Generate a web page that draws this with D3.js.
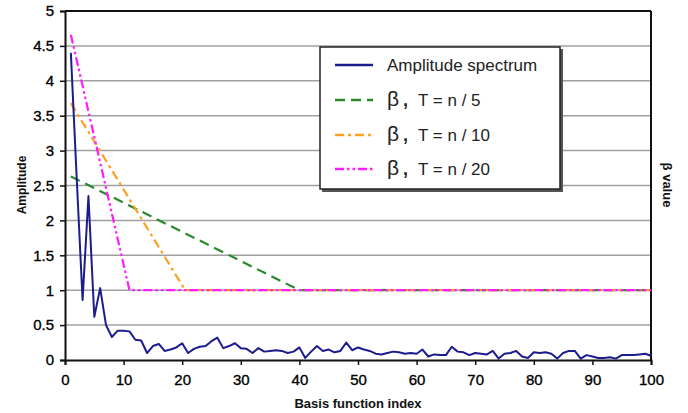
<!DOCTYPE html>
<html><head><meta charset="utf-8">
<script src="https://cdn.jsdelivr.net/npm/d3@7"></script>
<style>
body{margin:0;background:#fff;}
svg{display:block;font-family:"Liberation Sans",Arial,Helvetica,sans-serif;}
</style></head>
<body><svg id="c" width="688" height="413"></svg>
<script>
const indices = d3.range(1, 101);
const amplitude = [4.4,2.6,0.86,2.35,0.62,1.03,0.5,0.33,0.42,0.42,
0.41,0.29,0.28,0.1,0.2,0.23,0.13,0.15,0.18,0.24,
0.1,0.16,0.19,0.2,0.27,0.32,0.17,0.2,0.24,0.17,
0.16,0.1,0.17,0.12,0.13,0.14,0.13,0.1,0.12,0.18,
0.03,0.12,0.2,0.13,0.15,0.11,0.13,0.25,0.14,0.18,
0.15,0.13,0.09,0.08,0.1,0.12,0.11,0.09,0.1,0.09,
0.15,0.05,0.08,0.07,0.07,0.19,0.12,0.11,0.07,0.1,
0.09,0.08,0.13,0.02,0.09,0.1,0.13,0.05,0.03,0.11,
0.1,0.11,0.09,0.02,0.1,0.13,0.13,0.02,0.07,0.05,
0.03,0.03,0.04,0.02,0.07,0.07,0.07,0.08,0.09,0.06];
// beta breakpoints (index, value)
const betaT5x = [1, 40, 100], betaT5y = [2.63, 1, 1];
const betaT10x = [1, 20.5, 100], betaT10y = [3.68, 1, 1];
const betaT20x = [1, 11, 100], betaT20y = [4.66, 1, 1];
const xTicks = [0,10,20,30,40,50,60,70,80,90,100];
const yTicks = [0,0.5,1,1.5,2,2.5,3,3.5,4,4.5,5];
const legendLabels = ["Amplitude spectrum", "T = n / 5", "T = n / 10", "T = n / 20"];

const svg = d3.select("#c");
const L = 65, R = 651, T = 11, B = 360;
const x = d3.scaleLinear().domain([0,100]).range([L,R]);
const y = d3.scaleLinear().domain([0,5]).range([B,T]);

// gridlines
svg.append("g").selectAll("line").data(yTicks.filter(d=>d>0 && d<5)).join("line")
  .attr("x1",L).attr("x2",R).attr("y1",d=>y(d)).attr("y2",d=>y(d))
  .attr("stroke","#a0a0a0").attr("stroke-width",1.5);

// frame top/right
svg.append("line").attr("x1",L).attr("x2",R).attr("y1",T).attr("y2",T).attr("stroke","#111").attr("stroke-width",2);
svg.append("line").attr("x1",R).attr("x2",R).attr("y1",T).attr("y2",B).attr("stroke","#111").attr("stroke-width",2);

// axes
const xa = svg.append("g").attr("transform",`translate(0,${B})`)
  .call(d3.axisBottom(x).tickValues(xTicks).tickSize(5).tickPadding(9).tickFormat(d3.format("d")));
const ya = svg.append("g").attr("transform",`translate(${L},0)`)
  .call(d3.axisLeft(y).tickValues(yTicks).tickSize(5).tickPadding(6).tickFormat(d=>String(d)));
[xa,ya].forEach(a=>{
  a.select(".domain").attr("stroke","#111").attr("stroke-width",2);
  a.selectAll(".tick line").attr("stroke","#111").attr("stroke-width",1.5);
  a.selectAll("text").attr("fill","#000").attr("stroke","#000").attr("stroke-width",0.35)
    .style("font-size","15px").style("font-family","'Liberation Sans',Arial,sans-serif");
});

const line = d3.line().x(d=>x(d[0])).y(d=>y(d[1]));
const series = [
  {xs:betaT5x, ys:betaT5y, color:"#2a8a2a", dash:"10,6"},
  {xs:betaT10x, ys:betaT10y, color:"#ffa022", dash:"9,4,3,4"},
  {xs:betaT20x, ys:betaT20y, color:"#ff1cff", dash:"9,3,2.5,3,2.5,3"}
];
series.forEach(s=>{
  svg.append("path").datum(s.xs.map((v,i)=>[v,s.ys[i]])).attr("d",line)
    .attr("fill","none").attr("stroke",s.color).attr("stroke-width",2.2).attr("stroke-dasharray",s.dash);
});
svg.append("path").datum(indices.map((v,i)=>[v,amplitude[i]])).attr("d",line)
  .attr("fill","none").attr("stroke","#1c1c8e").attr("stroke-width",2).attr("stroke-linejoin","round");

// axis titles
svg.append("text").attr("transform","translate(26,185) rotate(-90)").attr("text-anchor","middle")
  .style("font-size","12px").style("font-weight","bold").attr("fill","#111").text("Amplitude");
svg.append("text").attr("x",358).attr("y",408).attr("text-anchor","middle")
  .style("font-size","13px").style("font-weight","bold").attr("fill","#111").text("Basis function index");
svg.append("text").attr("transform","translate(663,185) rotate(90)").attr("text-anchor","middle")
  .style("font-size","13px").style("font-weight","bold").attr("fill","#111").text("β value");

// legend
const lg = svg.append("g");
lg.append("rect").attr("x",322).attr("y",49).attr("width",241).attr("height",143).attr("fill","#555");
lg.append("rect").attr("x",320).attr("y",47).attr("width",240).attr("height",142).attr("fill","#fff").attr("stroke","#222").attr("stroke-width",1.5);
const rowsY = [65,100,135,169];
const styles = [{color:"#1c1c8e",dash:null},...series];
styles.forEach((s,i)=>{
  lg.append("line").attr("x1",335).attr("x2",373).attr("y1",rowsY[i]).attr("y2",rowsY[i])
    .attr("stroke",s.color).attr("stroke-width",2.5).attr("stroke-dasharray",s.dash);
  if(i===0){
    lg.append("text").attr("x",387).attr("y",rowsY[i]+6).style("font-size","17px").attr("fill","#222").text(legendLabels[0]);
  } else {
    const t = lg.append("text").attr("x",387).attr("y",rowsY[i]+6).attr("fill","#222");
    t.append("tspan").style("font-size","21px").text("β");
    t.append("tspan").attr("x",403).style("font-size","18px").style("font-weight","bold").text(",");
    t.append("tspan").attr("x",418).style("font-size","17px").text(legendLabels[i]);
  }
});
</script></body></html>
